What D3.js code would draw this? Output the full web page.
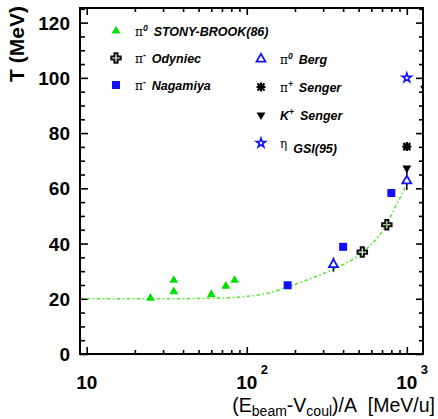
<!DOCTYPE html>
<html>
<head>
<meta charset="utf-8">
<script src="https://cdn.jsdelivr.net/npm/d3@7"></script>
<style>
  body { margin: 0; background: #fff; }
  svg { display: block; }
</style>
</head>
<body>
<div id="chart"></div>
<script>
// data
var stonyX = [25, 35, 35, 60, 74, 84];
var stonyY = [20.2, 22.6, 26.7, 21.6, 24.6, 26.7];
var odyniecX = [527, 750];
var odyniecY = [36.9, 46.8];
var nagamiyaX = [180, 400, 800];
var nagamiyaY = [24.9, 38.8, 58.3];
var bergX = [348, 1000];
var bergY = [32.4, 62.7];
var bergErr = [2.6, 3.3];
var senPiX = [1000];
var senPiY = [75.1];
var senKX = [1000, 1290];
var senKY = [67.3, 96.2];
var gsiX = [1000];
var gsiY = [100];
// dash-dot guide curve
var curveX = [10, 30, 60, 80, 100, 130, 180, 250, 350, 500, 730, 870, 1000];
var curveY = [20, 20, 20.2, 20.4, 20.9, 21.8, 24.2, 27.3, 30.8, 35.8, 46, 54.5, 61.5];

var xMajor = [10, 100, 1000];
var xMinor = [20, 30, 40, 50, 60, 70, 80, 90, 200, 300, 400, 500, 600, 700, 800, 900];
var xLabels = ["10", "10", "10"];
var xExp = ["", "2", "3"];
var yMajor = [0, 20, 40, 60, 80, 100, 120];
var yMinor = [5, 10, 15, 25, 30, 35, 45, 50, 55, 65, 70, 75, 85, 90, 95, 105, 110, 115, 125];

function createChart() {
  var W = 438, H = 419;
  var left = 80, right = 423, top = 8, bottom = 354;

  var svg = d3.select("#chart").append("svg")
      .attr("width", W)
      .attr("height", H);

  var x = d3.scaleLog().domain([9.08, 1262]).range([left, right]);
  var y = d3.scaleLinear().domain([0, 125.3]).range([bottom, top]);

  svg.append("clipPath").attr("id", "clip")
    .append("rect")
      .attr("x", left).attr("y", top)
      .attr("width", right - left).attr("height", bottom - top);

  // ticks, all pointing inward
  function ticks(axis, vals, size, tr) {
    var g = svg.append("g")
        .attr("transform", tr)
        .call(axis.tickValues(vals).tickSize(-size).tickFormat(""));
    g.select(".domain").remove();
    g.selectAll("line").attr("stroke", "#000").attr("stroke-width", 1.6);
  }
  ticks(d3.axisBottom(x), xMajor, 7, "translate(0," + bottom + ")");
  ticks(d3.axisBottom(x), xMinor, 4, "translate(0," + bottom + ")");
  ticks(d3.axisTop(x), xMajor, 7, "translate(0," + top + ")");
  ticks(d3.axisTop(x), xMinor, 4, "translate(0," + top + ")");
  ticks(d3.axisLeft(y), yMajor, 8, "translate(" + left + ",0)");
  ticks(d3.axisLeft(y), yMinor, 5, "translate(" + left + ",0)");
  ticks(d3.axisRight(y), yMajor, 7, "translate(" + right + ",0)");
  ticks(d3.axisRight(y), yMinor, 4, "translate(" + right + ",0)");

  svg.append("rect")
      .attr("x", left).attr("y", top)
      .attr("width", right - left).attr("height", bottom - top)
      .attr("fill", "none")
      .attr("stroke", "#000")
      .attr("stroke-width", 2);

  // y tick labels
  svg.selectAll(".ylab")
      .data(yMajor)
    .enter().append("text")
      .attr("x", 70)
      .attr("y", function(d) { return y(d) + 7; })
      .attr("text-anchor", "end")
      .attr("font-family", "Liberation Sans, Arial, sans-serif")
      .attr("font-weight", "bold")
      .attr("font-size", "19px")
      .text(function(d) { return d; });

  // x tick labels
  var xl = svg.selectAll(".xlab")
      .data(xMajor)
    .enter().append("g");
  xl.append("text")
      .attr("x", function(d) { return x(d); })
      .attr("y", 389)
      .attr("text-anchor", "middle")
      .attr("font-family", "Liberation Sans, Arial, sans-serif")
      .attr("font-weight", "bold")
      .attr("font-size", "19px")
      .text(function(d, i) { return xLabels[i]; });
  xl.append("text")
      .attr("x", function(d) { return x(d) + 14; })
      .attr("y", 374)
      .attr("font-family", "Liberation Sans, Arial, sans-serif")
      .attr("font-weight", "bold")
      .attr("font-size", "13px")
      .text(function(d, i) { return xExp[i]; });

  // axis titles
  svg.append("text")
      .attr("transform", "translate(24,44) rotate(-90)")
      .attr("text-anchor", "middle")
      .attr("font-family", "Liberation Sans, Arial, sans-serif")
      .attr("font-weight", "bold")
      .attr("font-size", "21px")
      .text("T (MeV)");

  var xt = svg.append("text")
      .attr("x", 435)
      .attr("y", 412)
      .attr("text-anchor", "end")
      .attr("font-family", "Liberation Sans, Arial, sans-serif")
      .attr("font-size", "19.5px");
  xt.append("tspan").text("(E");
  xt.append("tspan").attr("font-size", "14px").attr("dy", 4).text("beam");
  xt.append("tspan").attr("dy", -4).text("-V");
  xt.append("tspan").attr("font-size", "14px").attr("dy", 4).text("coul");
  xt.append("tspan").attr("dy", -4).text(")/A\u00a0\u00a0[MeV/u]");

  var plot = svg.append("g").attr("clip-path", "url(#clip)");

  // guide curve
  var line = d3.line()
      .x(function(d) { return x(d[0]); })
      .y(function(d) { return y(d[1]); })
      .curve(d3.curveMonotoneX);
  plot.append("path")
      .datum(d3.zip(curveX, curveY))
      .attr("d", line)
      .attr("fill", "none")
      .attr("stroke", "#55e833")
      .attr("stroke-width", 1.6)
      .attr("stroke-dasharray", "3.5,2.5,1.5,2.5");

  // marker styles
  var tri = d3.symbol().type(d3.symbolTriangle).size(34);
  var sq = d3.symbol().type(d3.symbolSquare).size(64);
  var cross = d3.symbol().type(d3.symbolCross).size(50);
  var star = d3.symbol().type(d3.symbolStar).size(26);
  var asterisk = "M-4.5,0H4.5M0,-4.5V4.5M-3.5,-3.5L3.5,3.5M-3.5,3.5L3.5,-3.5";

  var markers = {
    stony: function(g) { g.append("path").attr("d", tri()).attr("fill", "#00e000"); },
    odyniec: function(g) { g.append("path").attr("d", cross()).attr("fill", "none").attr("stroke", "#111").attr("stroke-width", 2); },
    nagamiya: function(g) { g.append("path").attr("d", sq()).attr("fill", "#1010ff"); },
    berg: function(g) { g.append("path").attr("d", tri()).attr("fill", "#fff").attr("stroke", "#1010ff").attr("stroke-width", 1.8); },
    senPi: function(g) { g.append("path").attr("d", asterisk).attr("fill", "none").attr("stroke", "#000").attr("stroke-width", 2.2); },
    senK: function(g) { g.append("path").attr("d", tri()).attr("transform", "rotate(180)").attr("fill", "#000"); },
    gsi: function(g) { g.append("path").attr("d", star()).attr("fill", "#fff").attr("stroke", "#1010ff").attr("stroke-width", 1.6); }
  };

  // Berg error bars
  plot.selectAll(".err")
      .data(bergX)
    .enter().append("line")
      .attr("x1", function(d) { return x(d); })
      .attr("x2", function(d) { return x(d); })
      .attr("y1", function(d, i) { return y(bergY[i] + bergErr[i]); })
      .attr("y2", function(d, i) { return y(bergY[i] - bergErr[i]); })
      .attr("stroke", "#000")
      .attr("stroke-width", 1.5);

  var series = [
    ["stony", stonyX, stonyY],
    ["nagamiya", nagamiyaX, nagamiyaY],
    ["odyniec", odyniecX, odyniecY],
    ["berg", bergX, bergY],
    ["senPi", senPiX, senPiY],
    ["senK", senKX, senKY],
    ["gsi", gsiX, gsiY]
  ];
  series.forEach(function(s) {
    plot.selectAll(".m-" + s[0])
        .data(d3.zip(s[1], s[2]))
      .enter().append("g")
        .attr("transform", function(d) { return "translate(" + x(d[0]) + "," + y(d[1]) + ")"; })
        .each(function() { markers[s[0]](d3.select(this)); });
  });

  // legend
  var legend = [
    ["stony", "0", "STONY-BROOK(86)", 116, 31, "\u03c0"],
    ["odyniec", "-", "Odyniec", 116, 58, "\u03c0"],
    ["nagamiya", "-", "Nagamiya", 116, 85, "\u03c0"],
    ["berg", "0", "Berg", 261, 59, "\u03c0"],
    ["senPi", "+", "Senger", 261, 87, "\u03c0"],
    ["senK", "+", "Senger", 261, 115, "K"],
    ["gsi", "", "GSI(95)", 261, 143, "\u03b7"]
  ];
  legend.forEach(function(l) {
    var g = svg.append("g").attr("transform", "translate(" + l[3] + "," + l[4] + ")");
    markers[l[0]](g.append("g"));
    var t = g.append("text")
        .attr("x", 19)
        .attr("y", 4.5)
        .attr("font-family", "Liberation Sans, Arial, sans-serif")
        .attr("font-size", "12.5px");
    if (l[5] == "K") {
      t.append("tspan").attr("font-weight", "bold").attr("font-style", "italic").text("K");
    } else {
      t.append("tspan").attr("font-family", "DejaVu Serif, serif").attr("font-size", "12px").text(l[5]);
    }
    t.append("tspan").attr("font-size", "8.5px").attr("font-weight", "bold").attr("font-style", "italic")
        .attr("dy", -5).text(l[1]);
    t.append("tspan").attr("font-weight", "bold").attr("font-style", "italic")
        .attr("dy", 5).attr("dx", 6).text(l[2]);
  });
}

createChart();
</script>
</body>
</html>
